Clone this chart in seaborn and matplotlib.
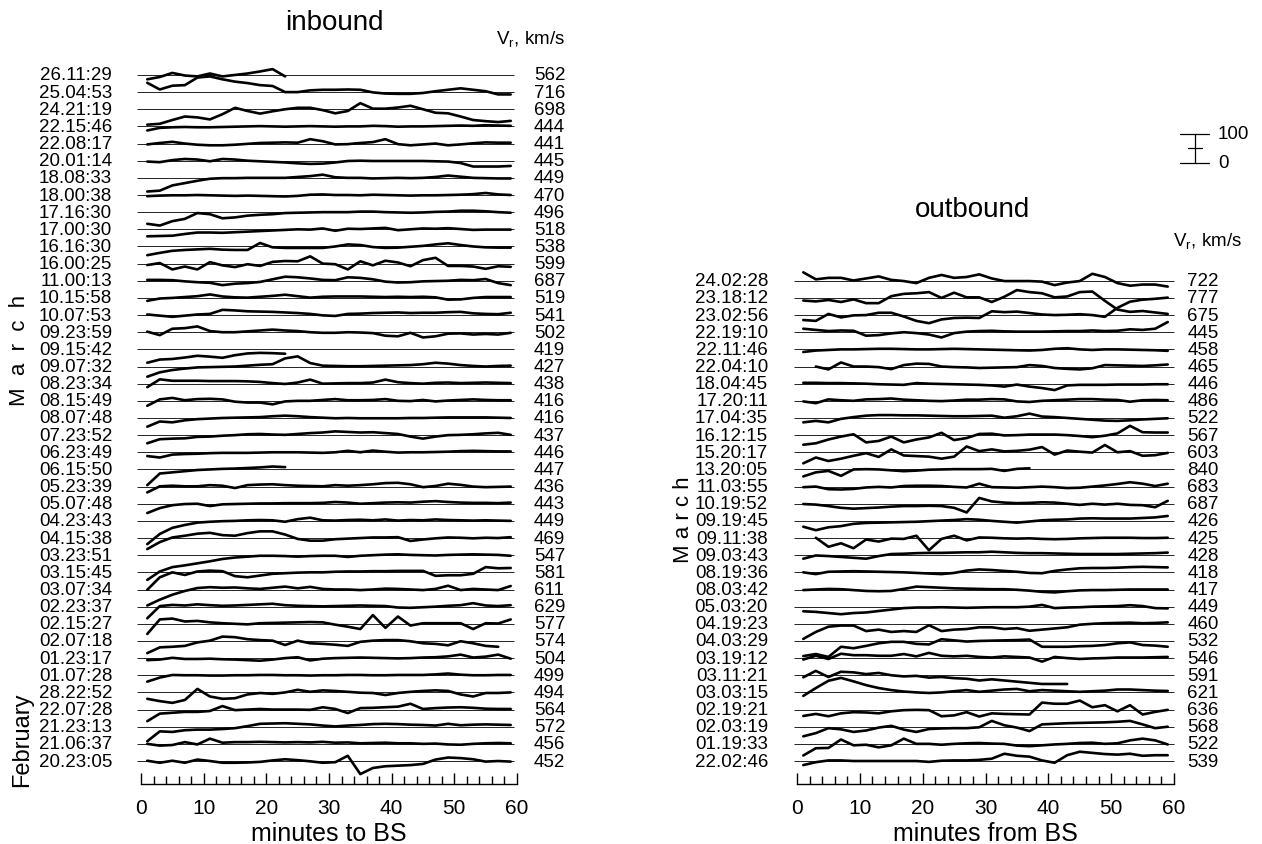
import matplotlib.pyplot as plt
import numpy as np
import pandas as pd
import seaborn as sns
from matplotlib.ticker import MultipleLocator

# sample times (minutes to / from the bow shock)
MINUTES = [1, 3, 5, 7, 9, 11, 13, 15, 17, 19, 21, 23, 25, 27, 29,
           31, 33, 35, 37, 39, 41, 43, 45, 47, 49, 51, 53, 55, 57, 59]

ROW_STEP = 59        # km/s between neighbouring baselines
SCALE_BAR = 100      # km/s
OUTBOUND_FIRST_ROW = 12
N = None

INBOUND_LABELS = [
    "26.11:29", "25.04:53", "24.21:19", "22.15:46", "22.08:17", "20.01:14",
    "18.08:33", "18.00:38", "17.16:30", "17.00:30", "16.16:30", "16.00:25",
    "11.00:13", "10.15:58", "10.07:53", "09.23:59", "09.15:42", "09.07:32",
    "08.23:34", "08.15:49", "08.07:48", "07.23:52", "06.23:49", "06.15:50",
    "05.23:39", "05.07:48", "04.23:43", "04.15:38", "03.23:51", "03.15:45",
    "03.07:34", "02.23:37", "02.15:27", "02.07:18", "01.23:17", "01.07:28",
    "28.22:52", "22.07:28", "21.23:13", "21.06:37", "20.23:05",
]
INBOUND_SPEEDS = [562, 716, 698, 444, 441, 445, 449, 470, 496, 518, 538, 599,
                  687, 519, 541, 502, 419, 427, 438, 416, 416, 437, 446, 447,
                  436, 443, 449, 469, 547, 581, 611, 629, 577, 574, 504, 499,
                  494, 564, 572, 456, 452]

# deviation of Vr from the row mean, km/s
INBOUND_DV = [
    [-15, -7, 7, -2, -5, 5, -5, 0, 5, 12, 20, -5, N, N, N, N, N, N, N, N, N, N, N, N, N, N, N, N, N, N],
    [32, 9, 22, 24, 50, 54, 44, 36, 31, 24, 21, 0, 0, 6, 8, 8, 9, 8, -1, -5, -6, -6, -3, 3, 8, 13, 8, 3, -8, -8],
    [-53, -50, -37, -25, -28, -35, -17, 5, -6, -15, -7, 0, 5, 5, -3, -14, -6, 21, 2, 2, 6, 12, 0, -12, -14, -25, -37, -41, -44, -40],
    [-14, -5, -3, -2, -3, -3, -2, -1, 0, 1, 0, -1, 0, 1, 0, -1, 0, 0, 2, 1, -1, 0, 0, 1, 2, 3, 2, 4, 3, 2],
    [-3, 2, 6, 0, -4, -6, -6, -4, -1, 2, 3, 4, 3, 15, 8, -3, -2, 2, 5, 15, -2, -6, -3, 0, -6, -3, 1, 4, 3, 3],
    [-3, -5, 2, 6, 4, -2, 6, 4, 0, -2, -4, -6, -9, -11, -10, -6, -1, 0, -1, -1, -1, -1, -1, -2, -3, -8, -20, -20, -20, -18],
    [-47, -44, -26, -18, -10, -3, -1, -1, 0, 0, 0, 0, 3, 6, 11, 2, 0, 0, -2, -1, 0, -1, 0, 3, 8, 4, 0, -1, -2, -2],
    [-4, -2, -1, -1, 0, -1, -2, -3, -2, -3, -4, -5, -3, 1, 2, 0, 0, -1, 1, 0, -1, -2, -1, -1, 0, 1, 3, 7, 2, 0],
    [-40, -46, -31, -23, -3, -7, -21, -18, -12, -9, -7, -3, -2, -1, 0, 0, 0, 2, 2, 0, -1, -2, -1, 1, 2, 5, 5, 3, 0, -2],
    [-24, -23, -22, -16, -11, -11, -12, -10, -8, -6, -4, -2, 0, -1, 3, -5, 2, 1, 3, 5, -3, 0, 3, 2, 4, 1, -2, -1, -1, -1],
    [-30, -22, -15, -12, -10, -8, -11, -12, -12, 12, -3, -5, -5, -5, -5, 0, 7, 5, -2, -5, -4, -1, 2, 7, 11, 5, 0, -3, -4, -4],
    [-5, 2, -20, -10, -20, 5, -6, -12, -2, -8, 6, 9, 8, 25, 0, -2, -20, 8, -6, 10, 4, -9, 12, 20, -8, -8, -10, -18, -9, -11],
    [3, 3, 2, -2, -5, -7, -15, -10, -8, -4, 5, 14, 12, 8, 3, 2, 12, 10, 5, -3, -6, -5, -2, -1, 0, 3, 2, 6, -8, -15],
    [-10, -2, 0, 3, 6, 12, 5, 2, 1, 4, 7, 11, 6, 1, 4, 5, 5, 5, 4, 3, 4, 3, 4, 2, -6, -5, 0, 3, 3, 3],
    [2, -2, -6, -2, 2, 4, 18, 16, 13, 12, 11, 9, 7, 4, -1, -3, 4, 5, 7, 8, 9, 7, 8, 8, 10, 11, 6, 4, 3, 8],
    [2, -10, 12, 14, 20, 4, 0, 0, 3, 6, 9, 6, 4, 0, -2, -2, 0, -1, -3, -12, -14, -2, -18, -14, -5, -4, -8, -6, -8, -2],
    [-46, -35, -33, -28, -22, -25, -29, -20, -14, -12, -13, -15, N, N, N, N, N, N, N, N, N, N, N, N, N, N, N, N, N, N],
    [-35, -20, -12, -7, -3, -2, -1, 0, 3, 6, 8, 28, 35, 12, 3, 2, 1, 1, 2, 3, 4, 5, 8, 13, 10, 5, 2, 0, 2, 3],
    [-12, 15, 10, 10, 10, 9, 9, 9, 8, 6, 2, -1, 4, 14, 0, 1, 2, 2, 4, 14, 5, 2, 0, 3, 4, 2, 3, 4, 3, 2],
    [-17, 5, 10, 2, 6, 7, 5, -3, -6, -6, -12, -2, 0, 0, 3, 6, 2, 2, 3, 6, 0, -1, 3, -2, 1, 3, 5, 3, 2, 2],
    [-30, -12, -15, -8, -4, -2, 0, 1, 2, 3, 6, 8, 6, 3, 1, -1, 0, -1, -1, -1, -1, 0, 0, 1, 2, 2, 2, 2, 1, 0],
    [-28, -14, -12, -11, -6, -5, -2, 0, 3, 4, 2, 1, 4, 7, 9, 13, 11, 9, 10, 7, 4, -5, -12, -5, 0, 1, 3, 6, 8, 1],
    [-13, -18, -8, -6, -5, -3, -2, -2, -2, -1, 0, 0, 0, -1, -2, 0, 5, 0, 6, 2, -1, 0, 0, 1, 2, 4, 5, 4, 3, 3],
    [-54, -14, -10, -6, -2, 0, 2, 3, 5, 7, 10, 8, N, N, N, N, N, N, N, N, N, N, N, N, N, N, N, N, N, N],
    [-20, 1, 3, 1, 1, 5, 3, -5, 5, 7, 8, 5, 3, 2, 1, 5, 3, 5, 8, 12, 13, 8, -2, 2, 10, 6, 0, -2, -1, 0],
    [-32, -15, -5, -1, 0, -8, -2, -1, 0, 1, 1, 2, 2, 2, 3, 6, 4, 0, 2, 4, 5, 4, 7, 9, 6, 4, 3, 3, 2, 4],
    [-80, -45, -24, -14, -6, -3, -1, 0, 2, 3, 2, -3, 6, 11, 2, 1, 3, 4, 2, 5, 1, 3, 2, 5, 3, 2, 1, 2, 1, 0],
    [-38, -14, 2, 8, 15, 18, 10, 8, 17, 23, 23, 12, -3, -9, -9, -4, -2, 0, 2, 2, 3, -10, -5, -1, 2, 1, -1, 1, 0, 3],
    [-85, -56, -41, -35, -28, -21, -13, -8, -5, -2, -2, -3, -5, -3, -2, -2, -6, -2, 0, 2, 3, 1, 0, -1, 1, 2, 3, 2, 1, -2],
    [-60, -17, 0, -9, 3, 6, 4, -13, -17, -11, -5, -3, -1, 0, 0, 2, 3, 3, 4, 4, 5, 5, 5, -12, -10, -10, -5, 18, 14, 15],
    [-55, -35, -18, -5, 5, 8, 6, 7, 4, 2, 6, 10, 4, 9, 2, 0, 0, -2, 0, 3, 2, 0, -2, 2, 13, -2, 2, 0, -2, 12],
    [-40, 2, 6, 4, 8, 5, 3, 4, 6, 8, 10, 5, 3, 2, 1, 2, 3, 4, 3, 2, -3, -4, -2, 0, 3, 5, 12, 4, 2, 5],
    [-35, 15, 18, 8, 10, 5, 2, 0, -2, 2, 3, 4, 5, 6, 5, -3, -10, -18, 30, -14, 25, -6, 2, 2, 2, 2, -18, 2, 1, 15],
    [-42, -22, -20, -17, -5, 1, 15, 13, 6, 3, 1, -14, 1, -8, -10, -13, -17, -3, 1, 3, 3, -1, -8, -10, -15, -1, -8, -17, -20, N],
    [-7, -5, 1, -3, -3, -2, -4, -5, -7, -9, -5, 0, 3, -8, -2, 0, 1, 2, 1, 0, -1, 0, 2, 3, 6, 12, 2, 5, 12, -2],
    [-22, -8, 1, 0, 0, -1, -1, 0, 0, 1, 1, 0, 0, -1, 0, 0, 1, 1, 0, 0, 1, 1, 1, 3, 6, 2, 0, 0, 1, 1],
    [-22, -30, -36, -26, 12, -14, -22, -20, -7, -2, -5, 0, 9, 2, 7, 5, 2, -1, -2, -9, -2, 2, 5, 7, 5, -7, -14, -2, -2, 0],
    [-40, -14, -11, -8, -8, -5, 12, -2, 0, 2, 0, 0, 0, -1, 8, 2, -12, 5, 6, 8, 10, 20, 2, 5, 7, 8, 6, 3, 2, 2],
    [-50, -16, -18, -12, -10, -10, -8, -5, 2, 10, 11, 12, 10, 8, 4, 1, 4, 6, 9, 10, 9, 7, 6, 4, 10, 5, 7, 8, 7, 6],
    [0, -6, -4, 6, -2, 18, 4, 6, 6, 7, 6, 5, 6, 5, 7, 4, 5, 2, 3, 4, 2, 2, 0, 1, -2, -3, 0, 2, 3, 2],
    [1, -6, 1, -6, 5, 0, -6, -6, -5, -3, 2, 6, 3, -1, -6, -4, 18, -45, -24, -18, -16, -14, -10, 5, 12, 10, 6, -2, 0, -2],
]

OUTBOUND_LABELS = [
    "24.02:28", "23.18:12", "23.02:56", "22.19:10", "22.11:46", "22.04:10",
    "18.04:45", "17.20:11", "17.04:35", "16.12:15", "15.20:17", "13.20:05",
    "11.03:55", "10.19:52", "09.19:45", "09.11:38", "09.03:43", "08.19:36",
    "08.03:42", "05.03:20", "04.19:23", "04.03:29", "03.19:12", "03.11:21",
    "03.03:15", "02.19:21", "02.03:19", "01.19:33", "22.02:46",
]
OUTBOUND_SPEEDS = [722, 777, 675, 445, 458, 465, 446, 486, 522, 567, 603, 840,
                   683, 687, 426, 425, 428, 418, 417, 449, 460, 532, 546, 591,
                   621, 636, 568, 522, 539]

OUTBOUND_DV = [
    [29, 5, 10, 10, 1, 8, 15, 3, -1, -8, 10, 20, 10, 13, 22, 8, -1, -1, -1, -3, -15, -6, -1, 24, 13, -8, -17, -13, -13, -20],
    [-9, -12, -7, -14, -5, -18, -18, 6, 14, 16, 20, 0, 18, 2, 2, -14, 4, 27, 20, 16, 2, 5, 20, 22, -10, -40, -48, -45, -50, -55],
    [-17, -20, 4, -8, -1, 0, 8, 8, -5, -20, -28, -15, -10, -9, -10, 13, 10, 12, 7, 2, 0, 1, 3, 0, -6, 25, 46, 53, 56, 60],
    [12, 8, 4, 6, 5, -12, -10, -4, 0, -3, -8, -18, -3, 2, 4, 5, 3, 2, 2, 2, 3, 4, 4, 6, 4, 5, 10, 8, 12, 35],
    [-9, -4, -2, 0, 0, 1, 2, 2, 1, 0, 0, 1, 2, 1, 0, -1, -2, -3, -4, -2, 2, 4, 0, -2, 0, 0, -1, -2, -3, -5],
    [N, 0, -10, 14, 0, 0, -2, -9, 5, 10, 9, 0, -2, -3, -5, -4, -3, -2, 5, 2, -5, -8, -10, -6, 5, 4, 3, 2, 4, 7],
    [3, 3, 2, 2, 1, 0, -2, -3, -4, 2, 0, -1, -2, -3, -4, -6, -10, -3, -10, -15, -22, -6, -4, -4, -4, -3, -3, -3, -2, -2],
    [-2, -8, 5, 2, 0, 5, 6, 8, 4, 2, 0, -1, 1, 4, 4, 6, 5, -2, -4, 0, 2, 4, 6, 6, 4, 3, -3, 2, 3, 2],
    [-15, -10, -15, -3, 3, 8, 10, 10, 9, 9, 8, 7, 6, 6, 7, 8, 1, 6, 15, 5, 3, 0, -3, -6, -9, -10, -8, -5, -3, -1],
    [-33, -28, -15, -5, 3, -25, -20, -5, -25, -15, -8, 8, -17, -10, 4, 5, -1, 0, 2, 2, 2, 0, -3, -7, -2, 6, 32, 10, 9, 9],
    [-38, -18, -30, -22, -12, -3, -16, 10, -11, -13, -15, -22, -15, 20, 4, 10, 3, 5, 9, 18, -8, 6, 2, -1, 25, 0, 4, -12, -10, -2],
    [-24, -10, -5, -22, 0, 1, 0, -3, -6, -4, -1, 0, 1, 1, 1, 2, -5, 2, 4, N, N, N, N, N, N, N, N, N, N, N],
    [-2, 0, -9, -10, -8, -3, -1, -3, 2, 3, 3, 2, -1, -3, 10, -2, -3, -4, -2, 0, -2, -5, -4, 0, 4, 9, 15, 10, 2, 10],
    [-1, -3, -8, -14, -17, -15, -13, -10, -8, -8, -7, -8, -14, -30, 20, 8, 4, 2, 3, 5, 4, 0, -4, 0, -3, 0, -4, -5, -12, 10],
    [-20, -32, -22, -18, -10, -7, -6, -5, -4, -3, -1, 1, 3, 6, 4, 0, -3, -6, -2, 2, 4, 5, 8, 9, 8, 8, 8, 10, 12, 17],
    [N, 1, -30, -18, -35, -5, -12, -2, -3, 8, -42, -3, 8, -8, 2, 1, -1, -2, -1, -3, -4, -3, -1, 0, 1, 1, 1, 0, 0, 1],
    [-12, -1, -3, -6, -9, -12, -3, 4, 5, 7, 8, 8, 9, 10, 10, 12, 10, 8, 7, 7, 6, 5, 4, 4, 4, 4, 5, 6, 7, 9],
    [0, -6, 2, 3, 4, 3, 2, 1, 0, -2, -4, -6, -2, 6, 10, 8, 5, 2, -2, -3, 5, 10, 14, 15, 15, 16, 18, 19, 18, 17],
    [-2, 0, 2, 1, -2, -5, -6, -5, 2, 10, 8, 6, 4, 3, 2, 1, 1, -1, -4, -8, -10, -6, -3, -2, -2, -1, 0, 0, 0, 0],
    [-16, -18, -22, -26, -22, -20, -15, -10, -5, -3, -3, -2, -3, -4, -3, -2, -2, -2, 0, 6, -5, -3, -2, 0, 1, 2, 5, 2, -5, -6],
    [-52, -28, -10, -6, -6, -25, -20, -28, -25, -28, -5, -25, -20, -18, -12, -12, -18, -15, -24, -20, -16, -12, -3, 0, 2, 3, 4, 2, 3, 5],
    [-52, -45, -55, -20, -25, -17, -8, -3, -3, -10, -12, 6, 2, -2, 0, 1, 2, 3, 5, -20, -20, -20, -18, -17, -14, -8, -5, -14, -16, -20],
    [-5, 8, -3, 15, 10, 10, 8, 8, 14, 6, 18, 8, 6, 8, 4, 2, 6, 4, 2, -12, 4, 0, -3, -1, 0, 2, 2, 2, 3, 4],
    [-7, 15, -6, 12, 10, 4, 8, 0, -4, -2, -8, -6, -10, -12, -18, -14, -18, -22, -26, -30, -30, -30, N, N, N, N, N, N, N, N],
    [-12, 15, 40, 50, 38, 25, 15, 8, 3, 0, -2, 0, 4, 8, 2, 6, 10, 12, 4, 8, 6, 4, 2, 4, 6, 10, 10, 8, 6, 5],
    [-22, -15, -23, -13, -9, -10, -13, -6, -2, -1, -2, -23, -20, -9, -24, -13, -15, -16, -17, 24, 20, 20, 31, 8, 15, -6, 15, -17, -8, -1],
    [-33, -22, -5, -9, -18, -13, -3, 3, -10, -18, -8, -6, -5, -5, -2, 20, 5, -3, -15, 8, 10, 12, 13, 14, 15, 17, 20, 8, -5, 0],
    [-40, -15, -14, 15, -5, -3, -12, -5, 18, 0, 0, -3, 0, 2, 3, 1, 0, -6, -8, -5, -2, 0, 3, 4, 0, 2, 12, 18, 12, -2],
    [-14, -4, 2, 2, 0, 0, 0, 0, 0, 0, -3, 1, 2, 2, 4, 8, 25, 18, 15, 2, -6, 20, 32, 28, 24, 22, 25, 18, 20, 20],
]

FIG_W, FIG_H = 1262, 845


def fx(px: float) -> float:
    return px / FIG_W


def fy(py: float) -> float:
    return 1 - py / FIG_H


def build_traces(dv_rows: list, first_row: int) -> pd.DataFrame:
    """Long-form table: one line per row, shifted down by its row index."""
    frames = []
    for i, dv in enumerate(dv_rows):
        k = first_row + i
        values = np.array([np.nan if v is None else v for v in dv], dtype=float)
        frames.append(pd.DataFrame({
            "minute": MINUTES,
            "y": values - k * ROW_STEP,
            "row": k,
        }))
    return pd.concat(frames, ignore_index=True).dropna()


def draw_panel(ax, labels, speeds, dv_rows, first_row, xlabel, label_x, speed_x, base_span):
    df = build_traces(dv_rows, first_row)
    rows = np.arange(first_row, first_row + len(labels))
    ax.hlines(-rows * ROW_STEP, base_span[0], base_span[1], color="#222222",
              linewidth=0.7, clip_on=False)
    sns.lineplot(data=df, x="minute", y="y", units="row", estimator=None,
                 color="black", linewidth=1.9, ax=ax, legend=False)

    for k, lab, v in zip(rows, labels, speeds):
        ax.text(label_x, -k * ROW_STEP, lab, ha="right", va="center",
                fontsize=13.5, clip_on=False)
        ax.text(speed_x, -k * ROW_STEP, str(v), ha="left", va="center",
                fontsize=13.5, clip_on=False)

    ax.set_xlim(0, 60)
    ax.set_ylim(-41.34 * ROW_STEP, 0.93 * ROW_STEP)
    ax.set_yticks([])
    ax.set_ylabel("")
    ax.xaxis.set_major_locator(MultipleLocator(10))
    ax.xaxis.set_minor_locator(MultipleLocator(2))
    ax.tick_params(axis="x", which="major", direction="in", length=8, width=1,
                   labelsize=15, pad=10, bottom=True, color="black")
    ax.tick_params(axis="x", which="minor", direction="in", length=5.5, width=1,
                   bottom=True, color="black")
    for side in ("left", "right", "top"):
        ax.spines[side].set_visible(False)
    ax.spines["bottom"].set_color("black")
    ax.spines["bottom"].set_linewidth(1)
    ax.set_xlabel(xlabel, fontsize=18, labelpad=3)
    ax.set_facecolor("none")


def draw_scale_bar(ax):
    y0 = -5.13 * ROW_STEP
    y1 = y0 + SCALE_BAR
    kw = dict(color="black", linewidth=0.9, clip_on=False)
    ax.plot([61.0, 65.6], [y0, y0], **kw)
    ax.plot([61.0, 65.6], [y1, y1], **kw)
    ax.plot([63.3, 63.3], [y0, y1], **kw)
    ax.plot([62.2, 64.4], [y0 + SCALE_BAR / 2] * 2, **kw)
    ax.text(67.0, y1, str(SCALE_BAR), ha="left", va="center", fontsize=13.5, clip_on=False)
    ax.text(67.0, y0, "0", ha="left", va="center", fontsize=13.5, clip_on=False)


def main():
    sns.set_theme(style="white", rc={
        "text.color": "black",
        "axes.labelcolor": "black",
        "xtick.color": "black",
        "xtick.direction": "in",
        "xtick.bottom": True,
        "xtick.minor.visible": True,
    })
    plt.rcParams["font.family"] = ["Liberation Sans", "DejaVu Sans"]
    plt.rcParams["mathtext.fontset"] = "custom"
    plt.rcParams["mathtext.rm"] = "Liberation Sans"

    fig = plt.figure(figsize=(FIG_W / 100, FIG_H / 100), dpi=100)
    bottom, top = fy(785), fy(60)
    ax_in = fig.add_axes([fx(141), bottom, fx(517) - fx(141), top - bottom])
    ax_out = fig.add_axes([fx(797), bottom, fx(1174) - fx(797), top - bottom])

    draw_panel(ax_in, INBOUND_LABELS, INBOUND_SPEEDS, INBOUND_DV, 0,
               "minutes to BS", -4.6, 62.7, (-0.6, 59.6))
    draw_panel(ax_out, OUTBOUND_LABELS, OUTBOUND_SPEEDS, OUTBOUND_DV,
               OUTBOUND_FIRST_ROW, "minutes from BS", -4.6, 62.1, (-0.5, 60.0))
    draw_scale_bar(ax_out)

    fig.text(fx(334), fy(23), "inbound", ha="center", va="center", fontsize=20)
    fig.text(fx(973), fy(210), "outbound", ha="center", va="center", fontsize=20)
    fig.text(fx(530), fy(40), r"V$_\mathregular{r}$, km/s", ha="center", va="center", fontsize=13.5)
    fig.text(fx(1207), fy(242), r"V$_\mathregular{r}$, km/s", ha="center", va="center", fontsize=13.5)

    fig.text(fx(20), fy(350), "M  a  r  c  h", rotation=90, ha="center", va="center", fontsize=16)
    fig.text(fx(22), fy(740), "February", rotation=90, ha="center", va="center", fontsize=17)
    fig.text(fx(683), fy(520), "M a r c h", rotation=90, ha="center", va="center", fontsize=16)

    fig.savefig("out.png", dpi=100, facecolor="white")


if __name__ == "__main__":
    main()
